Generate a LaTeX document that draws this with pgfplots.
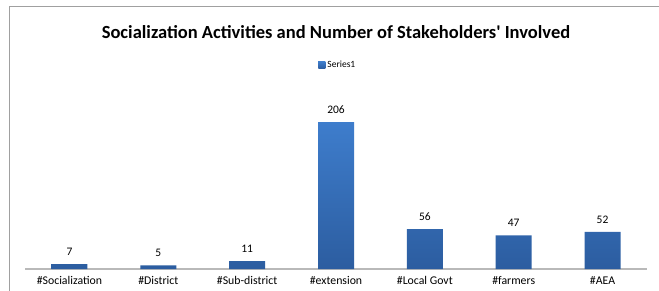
\documentclass[border=0pt]{standalone}
\usepackage{pgfplots}
\pgfplotsset{compat=1.18}
\usepackage{fontspec}
\setmainfont{Carlito}
\definecolor{bartop}{RGB}{62,125,204}
\definecolor{barbot}{RGB}{44,93,160}
\definecolor{framegray}{RGB}{160,160,160}
\definecolor{axisgray}{RGB}{185,185,185}
\begin{document}
\begin{tikzpicture}[x=1pt,y=1pt]
\useasboundingbox (0,0) rectangle (659,290);
\fill[white] (0,0) rectangle (659,290);
\draw[framegray, line width=1pt] (9.5,-5) -- (9.5,283) -- (670,283);
\node[font=\fontsize{18.5}{22}\selectfont\bfseries] at (336,258) {Socialization Activities and Number of Stakeholders\textquotesingle{} Involved};
\begin{axis}[
  at={(25pt,21pt)}, anchor=south west,
  scale only axis, width=622pt, height=164pt,
  xmin=-0.5, xmax=6.5, ymin=0, ymax=230,
  ybar, bar width=36pt,
  axis x line=bottom, axis y line=none,
  axis line style={-, axisgray, line width=1.2pt},
  xtick=data,
  xticklabels={\#Socialization,\#District,\#Sub-district,\#extension,\#Local Govt,\#farmers,\#AEA},
  major tick length=0pt,
  xticklabel style={font=\fontsize{11.8}{14}\selectfont, yshift=-3.5pt},
  ytick=\empty,
  /pgf/number format/assume math mode=true,
  nodes near coords,
  every node near coord/.append style={font=\fontsize{11.5}{14}\selectfont, text=black, yshift=5pt},
  legend style={at={(0.503,1.244)}, anchor=center, draw=none, fill=none, font=\fontsize{9.5}{11}\selectfont},
  legend image code/.code={\fill[bartop] (0pt,-3.5pt) rectangle (7pt,3.5pt);},
]
\addplot[draw=none, top color=bartop, bottom color=barbot] coordinates {(0,7) (1,5) (2,11) (3,206) (4,56) (5,47) (6,52)};
\addlegendentry{Series1}
\end{axis}
\end{tikzpicture}
\end{document}
